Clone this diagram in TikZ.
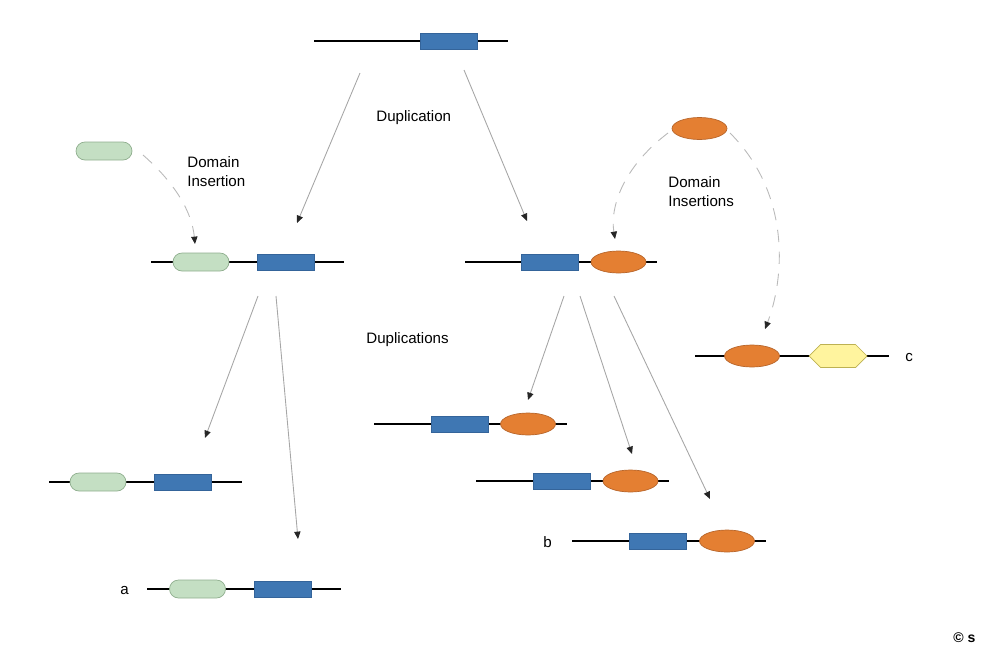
\documentclass[tikz,border=0pt]{standalone}
\usepackage{fontspec}
\setmainfont{Liberation Sans}
\usetikzlibrary{arrows.meta,positioning,shapes.geometric,shapes.symbols}
\definecolor{geneblue}{HTML}{3F77B3}
\definecolor{geneline}{HTML}{34649A}
\definecolor{domorange}{HTML}{E47F32}
\definecolor{orangeline}{HTML}{B8662B}
\definecolor{domgreen}{HTML}{C4DFC3}
\definecolor{greenline}{HTML}{8FAE8E}
\definecolor{domyellow}{HTML}{FFF49E}
\definecolor{yellowline}{HTML}{BDB152}
\begin{document}
\begin{tikzpicture}[x=0.02cm, y=-0.02cm,
  font=\fontsize{8.6}{10.8}\selectfont,
  dna/.style={line width=0.8pt, black},
  blue/.style={draw=geneline, fill=geneblue, minimum width=1.14cm, minimum height=0.32cm, inner sep=0pt},
  orange/.style={ellipse, draw=orangeline, fill=domorange, minimum width=1.1cm, minimum height=0.44cm, inner sep=0pt},
  green/.style={draw=greenline, fill=domgreen, rounded corners=0.18cm, minimum width=1.12cm, minimum height=0.36cm, inner sep=0pt},
  yellow/.style={signal, signal to=east and west, signal pointer angle=90, draw=yellowline, fill=domyellow, minimum width=1.16cm, minimum height=0.46cm, inner sep=0pt},
  txt/.style={anchor=west, align=left, inner sep=0pt},
  arr/.style={-{Triangle[length=4.2pt, width=3.6pt, color=black!85]}, gray!70, line width=0.5pt},
  ins/.style={arr, gray!55, dash pattern=on 7pt off 5.5pt}]
\useasboundingbox (0,0) rectangle (986,646);
% ancestral gene
\draw[dna] (314,41) -- (508,41);
\node[blue] (b0) at (449,41.5) {};
\node[txt] (dup1) at (376,118) {Duplication};
% free domains
\node[green] (g0) at (104,151) {};
\node[orange] (o0) at (699.5,128.5) {};
\node[txt] (ins1) at (187,171.5) {Domain\\Insertion};
\node[txt] (ins2) at (668,192) {Domain\\Insertions};
% second level
\draw[dna] (151,262) -- (344,262);
\node[green] (g1) at (201,262) {};
\node[blue] (b1) at (285.5,262) {};
\draw[dna] (465,262) -- (657,262);
\node[blue] (b2) at (549.5,262) {};
\node[orange] (o2) at (618.5,262) {};
\draw[dna] (695,356) -- (889,356);
\node[orange] (o3) at (752,356) {};
\node[yellow] (y3) at (838,356) {};
\node[txt] (lc) at (905,357) {c};
\node[txt] (dup2) at (366,340) {Duplications};
% copies of the left gene
\draw[dna] (49,482) -- (242,482);
\node[green] (g4) at (98,482) {};
\node[blue] (b4) at (183,482) {};
\draw[dna] (147,589) -- (341,589);
\node[green] (g5) at (197.5,589) {};
\node[blue] (b5) at (282.5,589) {};
\node[txt] (la) at (120,590) {a};
% copies of the right gene
\draw[dna] (374,424) -- (567,424);
\node[blue] (b6) at (459.5,424) {};
\node[orange] (o6) at (528,424) {};
\draw[dna] (476,481) -- (669,481);
\node[blue] (b7) at (561.5,481) {};
\node[orange] (o7) at (630.5,481) {};
\draw[dna] (572,541) -- (766,541);
\node[blue] (b8) at (657.5,541) {};
\node[orange] (o8) at (727,541) {};
\node[txt] (lb) at (543,542) {b};
% arrow ends
\coordinate (t1) at (360,73); \coordinate (h1) at (297,223);
\coordinate (t2) at (464,70); \coordinate (h2) at (527,221);
\coordinate (t3) at (143,155); \coordinate (h3) at (195,244);
\coordinate (t4) at (668,133); \coordinate (h4) at (615,239);
\coordinate (t5) at (730,133); \coordinate (h5) at (765,329);
\coordinate (t6) at (258,296); \coordinate (h6) at (205,438);
\coordinate (t7) at (276,296); \coordinate (h7) at (298,539);
\coordinate (t8) at (564,296); \coordinate (h8) at (528,400);
\coordinate (t9) at (580,296); \coordinate (h9) at (632,454);
\coordinate (t10) at (614,296); \coordinate (h10) at (710,499);
\draw[arr] (t1) -- (h1); \draw[arr] (t2) -- (h2);
\draw[ins] (t3) .. controls (175,183) and (192,212) .. (h3);
\draw[ins] (t4) .. controls (622,168) and (610,208) .. (h4);
\draw[ins] (t5) .. controls (792,195) and (784,280) .. (h5);
\draw[arr] (t6) -- (h6); \draw[arr] (t7) -- (h7);
\draw[arr] (t8) -- (h8); \draw[arr] (t9) -- (h9); \draw[arr] (t10) -- (h10);
\node[anchor=south west, inner sep=0pt, font=\bfseries\fontsize{8}{9}\selectfont] (copy) at (953,643) {© s};
\end{tikzpicture}
\end{document}
